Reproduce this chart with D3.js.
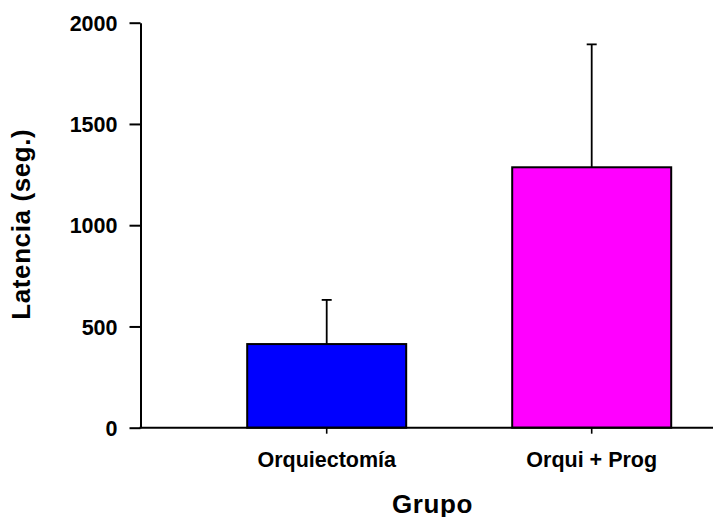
<!DOCTYPE html>
<html>
<head>
<meta charset="utf-8">
<script src="https://cdn.jsdelivr.net/npm/d3@7"></script>
<style>
  html, body { margin: 0; padding: 0; background: #fff; }
  svg { display: block; }
  text { font-family: "Liberation Sans", Arial, Helvetica, sans-serif; font-weight: bold; fill: #000; }
</style>
</head>
<body>
<svg id="chart" width="713" height="517"></svg>
<script>
// Group names, mean latency and upper error (mean + SE)
const categories = ["Orquiectomía", "Orqui + Prog"];
const means = [413, 1286];
const errorTops = [631, 1893];
const barColors = ["#0000ff", "#ff00ff"];
const yTicks = [0, 500, 1000, 1500, 2000];

const svg = d3.select("#chart");

const y = d3.scaleLinear().domain([0, 2000]).range([427.7, 22.7]);
const x = d3.scaleBand()
  .domain(categories)
  .range([194.2, 724.2])
  .paddingInner(0.4)
  .paddingOuter(0.2);

const axisX0 = 140.5;
const baseY = y(0);

// bars
svg.append("g").selectAll("rect")
  .data(categories)
  .join("rect")
  .attr("x", d => x(d))
  .attr("y", (d, i) => y(means[i]))
  .attr("width", x.bandwidth())
  .attr("height", (d, i) => baseY - y(means[i]))
  .attr("fill", (d, i) => barColors[i])
  .attr("stroke", "#000")
  .attr("stroke-width", 2);

// error bars (upper only)
const eb = svg.append("g").attr("stroke", "#000").attr("stroke-width", 1.8);
categories.forEach((c, i) => {
  const cx = x(c) + x.bandwidth() / 2;
  eb.append("line").attr("x1", cx).attr("x2", cx)
    .attr("y1", y(means[i])).attr("y2", y(errorTops[i]));
  eb.append("line").attr("x1", cx - 5).attr("x2", cx + 5)
    .attr("y1", y(errorTops[i])).attr("y2", y(errorTops[i]));
});

// y axis
const yAxis = d3.axisLeft(y).tickValues(yTicks).tickFormat(d3.format("d"))
  .tickSize(11).tickPadding(12).tickSizeOuter(0);
const gy = svg.append("g").attr("transform", `translate(${axisX0},0)`).call(yAxis);
gy.select(".domain").attr("stroke", "#000").attr("stroke-width", 2);
gy.selectAll(".tick line").attr("stroke", "#000").attr("stroke-width", 2);
gy.selectAll(".tick text")
  .style("font-size", "21.5px")
  .style("font-family", "'Liberation Sans', Arial, sans-serif")
  .style("font-weight", "bold")
  .attr("fill", "#000")
  .attr("dy", "0.36em");

// x axis baseline spans to the right edge
svg.append("line")
  .attr("x1", axisX0 - 1).attr("x2", 713)
  .attr("y1", baseY).attr("y2", baseY)
  .attr("stroke", "#000").attr("stroke-width", 2);

const xAxis = d3.axisBottom(x).tickSize(6).tickPadding(0).tickSizeOuter(0);
const gx = svg.append("g").attr("transform", `translate(0,${baseY})`).call(xAxis);
gx.select(".domain").remove();
gx.selectAll(".tick line").attr("stroke", "#000").attr("stroke-width", 1.6);
gx.selectAll(".tick text")
  .style("font-size", "21.5px")
  .style("font-family", "'Liberation Sans', Arial, sans-serif")
  .style("font-weight", "bold")
  .attr("fill", "#000")
  .attr("dy", null)
  .attr("y", 39);

// axis titles
svg.append("text")
  .attr("x", 432.5).attr("y", 512.5)
  .attr("text-anchor", "middle")
  .style("font-size", "26px")
  .style("letter-spacing", "0.6px")
  .text("Grupo");

svg.append("text")
  .attr("transform", "translate(29.5,224.2) rotate(-90)")
  .attr("text-anchor", "middle")
  .style("font-size", "26px")
  .style("letter-spacing", "0.6px")
  .text("Latencia (seg.)");
</script>
</body>
</html>
